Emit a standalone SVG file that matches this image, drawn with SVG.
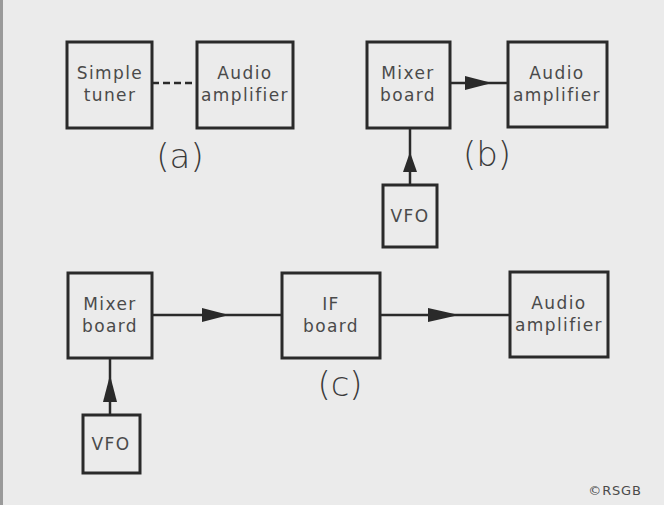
<svg xmlns="http://www.w3.org/2000/svg" width="664" height="505" viewBox="0 0 664 505">
<defs>
<style>
.box{fill:none;stroke:#2a2a2a;stroke-width:3}
.t{font-family:"DejaVu Sans","Liberation Sans",sans-serif;font-size:17px;fill:#4a4a4a;text-anchor:middle;letter-spacing:1.4px}
.lab{font-family:"DejaVu Sans","Liberation Sans",sans-serif;font-size:34px;fill:#3a3a3a;text-anchor:middle;font-weight:300}
.ln{stroke:#2a2a2a;stroke-width:2.5;fill:none}
.ah{fill:#2a2a2a}
</style>
</defs>
<rect width="664" height="505" fill="#ebebeb"/>
<rect x="0" y="0" width="3" height="505" fill="#9a9a9a"/>
<g id="connectors">
<line class="ln" x1="152" y1="83" x2="197" y2="83" stroke-dasharray="7,4"/>
<line class="ln" x1="450" y1="83" x2="508" y2="83"/>
<polygon class="ah" points="465,76 492,83 465,90"/>
<line class="ln" x1="410" y1="185" x2="410" y2="128"/>
<polygon class="ah" points="403,172 410,152 417,172"/>
<line class="ln" x1="152" y1="315" x2="282" y2="315"/>
<polygon class="ah" points="202,308 229,315 202,322"/>
<line class="ln" x1="380" y1="315" x2="510" y2="315"/>
<polygon class="ah" points="428,308 459,315 428,322"/>
<line class="ln" x1="110" y1="415" x2="110" y2="358"/>
<polygon class="ah" points="103,402 110,375 117,402"/>
</g>
<g id="a-tuner"><rect class="box" x="67" y="42" width="85" height="86"/><text class="t" x="110" y="79">Simple</text><text class="t" x="110" y="101">tuner</text></g>
<g id="a-audio"><rect class="box" x="197" y="42" width="96" height="86"/><text class="t" x="245" y="79">Audio</text><text class="t" x="245" y="101">amplifier</text></g>
<g id="b-mixer"><rect class="box" x="367" y="42" width="83" height="86"/><text class="t" x="408" y="79">Mixer</text><text class="t" x="408" y="101">board</text></g>
<g id="b-audio"><rect class="box" x="508" y="42" width="99" height="85"/><text class="t" x="557" y="79">Audio</text><text class="t" x="557" y="101">amplifier</text></g>
<g id="b-vfo"><rect class="box" x="383" y="185" width="54" height="62"/><text class="t" x="410" y="222">VFO</text></g>
<g id="c-mixer"><rect class="box" x="68" y="273" width="84" height="85"/><text class="t" x="110" y="310">Mixer</text><text class="t" x="110" y="332">board</text></g>
<g id="c-if"><rect class="box" x="282" y="273" width="98" height="85"/><text class="t" x="331" y="310">IF</text><text class="t" x="331" y="332">board</text></g>
<g id="c-audio"><rect class="box" x="510" y="272" width="98" height="85"/><text class="t" x="559" y="309">Audio</text><text class="t" x="559" y="331">amplifier</text></g>
<g id="c-vfo"><rect class="box" x="83" y="415" width="57" height="58"/><text class="t" x="111" y="450">VFO</text></g>
<text class="lab" x="180" y="168">(a)</text>
<text class="lab" x="487" y="166">(b)</text>
<text class="lab" x="340" y="396">(c)</text>
<text x="615" y="495" style="font-family:'DejaVu Sans','Liberation Sans',sans-serif;font-size:13px;fill:#4a4a4a;text-anchor:middle;letter-spacing:0.8px">©RSGB</text>
</svg>
